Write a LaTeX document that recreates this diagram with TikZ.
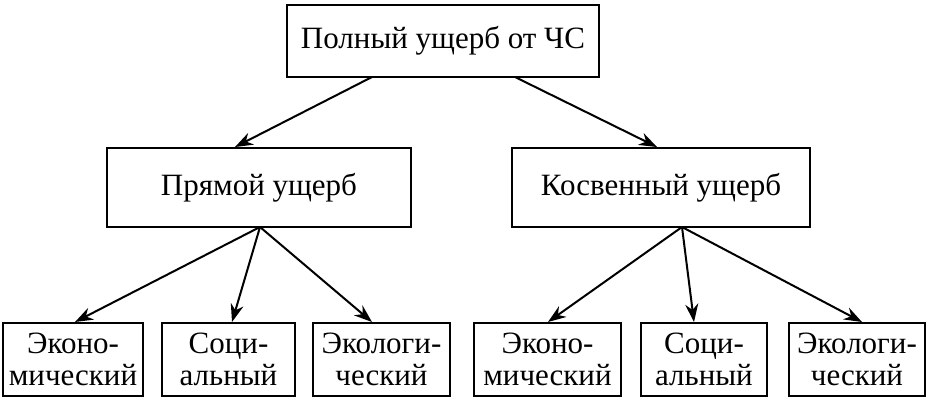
\documentclass[tikz,border=0pt]{standalone}
\usepackage{fontspec}
\setmainfont{Liberation Serif}
\usetikzlibrary{arrows.meta}
\begin{document}
\begin{tikzpicture}[x=1pt,y=-1pt,
 box/.style={draw,line width=2pt,font=\fontsize{31}{32}\selectfont,align=center,inner sep=0pt},
 arr/.style={line width=2pt,-{Stealth[length=18pt,width=13pt]}}]
\useasboundingbox (0,0) rectangle (929,400);
\newcommand\bx[6]{\node[box,minimum width=#4-#2,minimum height=#5-#3] (#1) at ({(#2+#4)/2},{(#3+#5)/2}) {#6};}
\bx{top}{287}{5}{599}{77}{Полный ущерб от ЧС}
\bx{ml}{107}{148}{411}{227}{Прямой ущерб}
\bx{mr}{512}{148}{810}{227}{Косвенный ущерб}
\bx{a}{3}{323}{143}{396}{Эконо-\\мический}
\bx{b}{162}{323}{295}{396}{Соци-\\альный}
\bx{c}{313}{323}{450}{396}{Экологи-\\ческий}
\bx{d}{474}{323}{621}{396}{Эконо-\\мический}
\bx{e}{641}{323}{767}{396}{Соци-\\альный}
\bx{f}{789}{323}{925}{396}{Экологи-\\ческий}
\coordinate (t1) at (372,77); \coordinate (t2) at (515,77);
\coordinate (l0) at (260,227); \coordinate (r0) at (682,227);
\draw[arr] (t1) -- (ml.north -| 235,0);
\draw[arr] (t2) -- (mr.north -| 657,0);
\draw[arr] (l0) -- (a.north -| 75,0);
\draw[arr] (l0) -- (b.north -| 232,0);
\draw[arr] (l0) -- (c.north -| 372,0);
\draw[arr] (r0) -- (d.north -| 548,0);
\draw[arr] (r0) -- (e.north -| 694,0);
\draw[arr] (r0) -- (f.north -| 862,0);
\end{tikzpicture}
\end{document}
